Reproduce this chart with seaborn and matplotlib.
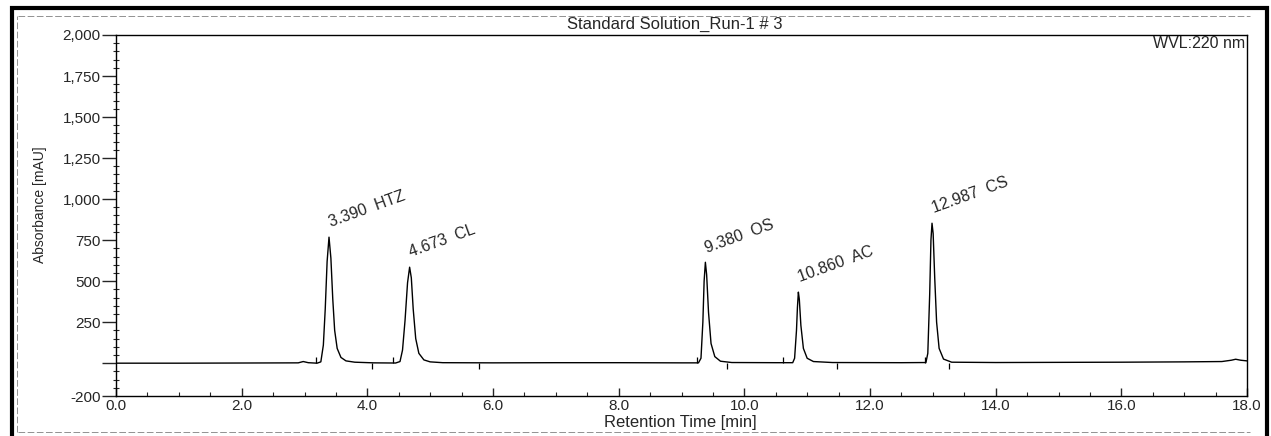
import matplotlib.pyplot as plt
import matplotlib.ticker as tik
import seaborn as sns
from matplotlib.patches import Rectangle
from matplotlib.lines import Line2D

#### data
time_min = [0.0, 1.0, 2.0, 2.9, 2.98, 3.06, 3.20, 3.26, 3.30, 3.33, 3.36, 3.39, 3.42, 3.45,
            3.48, 3.52, 3.58, 3.66, 3.80, 4.10, 4.45, 4.52, 4.56, 4.60, 4.64, 4.673, 4.70,
            4.73, 4.77, 4.82, 4.90, 5.00, 5.20, 6.0, 7.0, 8.0, 9.0, 9.27, 9.31, 9.34, 9.36,
            9.38, 9.40, 9.43, 9.47, 9.53, 9.62, 9.80, 10.5, 10.77, 10.80, 10.83, 10.845,
            10.86, 10.875, 10.90, 10.94, 11.0, 11.1, 11.4, 12.5, 12.89, 12.92, 12.95, 12.97,
            12.987, 13.005, 13.03, 13.06, 13.10, 13.17, 13.3, 14.0, 15.0, 16.0, 17.0, 17.6,
            17.75, 17.82, 17.9, 18.0]
absorbance = [0, 0, 1, 2, 10, 3, 0, 8, 110, 330, 620, 768, 640, 390,
              200, 90, 35, 14, 6, 2, 1, 10, 80, 260, 490, 585, 520,
              330, 150, 60, 20, 8, 3, 2, 3, 3, 2, 2, 30, 250, 500,
              615, 540, 310, 120, 40, 12, 4, 3, 3, 30, 200, 340,
              433, 390, 230, 90, 30, 10, 4, 3, 4, 60, 420, 750,
              853, 790, 520, 250, 90, 25, 6, 4, 5, 6, 8, 10,
              18, 24, 18, 14]

peak_times = [3.390, 4.673, 9.380, 10.860, 12.987]
peak_heights = [768, 585, 615, 433, 853]
peak_names = ["HTZ", "CL", "OS", "AC", "CS"]

# integration markers
start_marks = [3.18, 4.41, 9.24, 10.62, 12.87]
end_marks = [4.08, 5.78, 9.73, 11.48, 13.26]

y_ticks = [-200, 0, 250, 500, 750, 1000, 1250, 1500, 1750, 2000]
y_labels = ["-200", "", "250", "500", "750", "1,000", "1,250", "1,500", "1,750", "2,000"]

sns.set_style("ticks")
plt.rcParams['font.family'] = ['Liberation Sans', 'DejaVu Sans']
plt.rcParams['axes.unicode_minus'] = False

fig = plt.figure(figsize=(12.71, 4.36), dpi=100)
ax = fig.add_axes([116/1271, 1-396/436, (1247-116)/1271, (396-35)/436])

sns.lineplot(x=time_min, y=absorbance, estimator=None, sort=False,
             color="black", linewidth=1.0, ax=ax)

ax.vlines(start_marks, 0, 40, color="black", linewidth=0.9)
ax.vlines(end_marks, -35, 0, color="black", linewidth=0.9)

for t, h, n in zip(peak_times, peak_heights, peak_names):
    ax.annotate("%.3f  %s" % (t, n), xy=(t, h), xytext=(2, 5),
                textcoords="offset points", rotation=20, rotation_mode="anchor",
                ha="left", va="bottom", fontsize=11.5)

ax.set_xlim(0, 18)
ax.set_ylim(-200, 2000)
ax.set_xticks([0, 2, 4, 6, 8, 10, 12, 14, 16, 18])
ax.xaxis.set_major_formatter(tik.FormatStrFormatter("%.1f"))
ax.xaxis.set_minor_locator(tik.MultipleLocator(0.5))
ax.set_yticks(y_ticks)
ax.set_yticklabels(y_labels)
ax.yaxis.set_minor_locator(tik.MultipleLocator(50))

ax.tick_params(axis="x", which="major", direction="in", length=6, width=1,
               labelsize=11, pad=2)
ax.tick_params(axis="x", which="minor", direction="in", length=3, width=0.8)
ax.tick_params(axis="y", which="major", direction="out", length=10, width=1,
               labelsize=11, pad=1)
ax.tick_params(axis="y", which="minor", direction="inout", length=4, width=0.8)
for s in ax.spines.values():
    s.set_linewidth(1.0)
    s.set_color("black")

ax.set_xlabel("Retention Time [min]", fontsize=12)
ax.xaxis.set_label_coords(0.4987, -0.073)
ax.xaxis.label.set_va("center")
ax.set_ylabel("Absorbance [mAU]", fontsize=10)
ax.yaxis.set_label_coords(-0.067, 0.53)
ax.yaxis.label.set_va("center")
ax.text(0.998, 0.997, "WVL:220 nm", transform=ax.transAxes, ha="right", va="top",
        fontsize=11.5)

fig.text(675/1271, 1-24/436, "Standard Solution_Run-1 # 3", ha="center", va="center",
         fontsize=12)

# report frame
fig.patches.append(Rectangle((12/1271, -0.02), (1267-12)/1271, 0.982+0.02,
                             transform=fig.transFigure, fill=False,
                             edgecolor="black", linewidth=3))
fig.lines.append(Line2D([18/1271, 1250/1271], [1-16/436, 1-16/436],
                        transform=fig.transFigure, color="grey", lw=0.6, ls=(0, (8, 3))))
fig.lines.append(Line2D([18/1271, 1250/1271], [1-432/436, 1-432/436],
                        transform=fig.transFigure, color="grey", lw=0.6, ls=(0, (8, 3))))
fig.lines.append(Line2D([17/1271, 17/1271], [1-432/436, 1-16/436],
                        transform=fig.transFigure, color="grey", lw=0.6, ls=(0, (8, 3))))

plt.savefig("out.png", dpi=100)
